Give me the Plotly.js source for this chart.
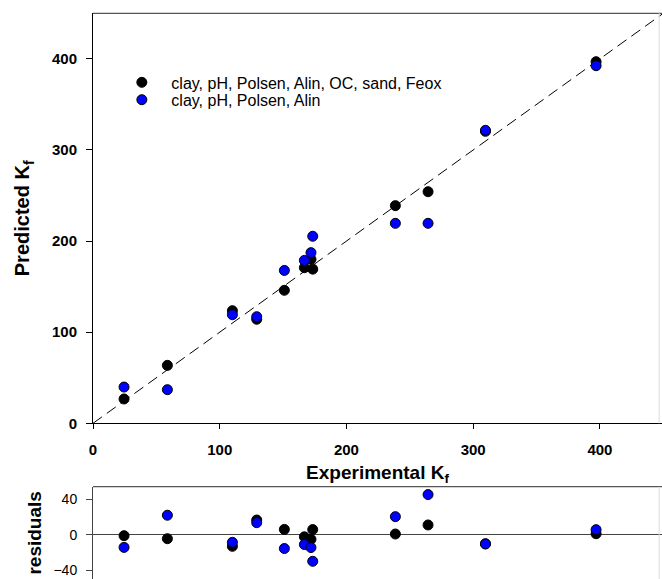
<!DOCTYPE html>
<html>
<head>
<meta charset="utf-8">
<script src="https://cdn.plot.ly/plotly-3.0.1.min.js"></script>
<style>html,body{margin:0;padding:0;background:#fff;}#chart{width:662px;height:579px;}</style>
</head>
<body>
<div id="chart"></div>
<script>
// Experimental Kf (x) for the 12 soils
var experimental = [24.5, 58.7, 110, 129.2, 151, 166.8, 172, 173.4, 238.6, 264.4, 309.7, 397];
// Predicted Kf, model with 7 variables (black)
var predicted7 = [26.7, 63.6, 123.6, 114.2, 146, 170.8, 180, 169.2, 238.9, 254.2, 320.5, 396.9];
// Predicted Kf, model with 4 variables (blue)
var predicted4 = [39.8, 36.9, 119.2, 117, 167.8, 178.8, 187.3, 205.3, 219.5, 219.5, 321.6, 392.5];
// Residuals
var residuals7 = [-1.1, -4.5, -13.1, 16.6, 6, -2.4, -5.2, 5.8, 0.8, 11, -10.2, 1.1];
var residuals4 = [-14.3, 22, -8.6, 13.6, -15.6, -11.1, -14.5, -30, 20.4, 45.3, -10.5, 5.7];
var identityLine = [0, 450];
var seriesNames = ["clay, pH, Polsen, Alin, OC, sand, Feox", "clay, pH, Polsen, Alin"];
var seriesColors = ["#000000", "#0000ff"];
var mainTicks = [0, 100, 200, 300, 400];
var residTicks = [-40, 0, 40];

var FONT = "Arial, 'Liberation Sans', sans-serif";

var traces = [
  {x: identityLine, y: identityLine, mode: "lines", type: "scatter", showlegend: false, hoverinfo: "skip",
   line: {color: "#000", width: 1, dash: "11px,6px"}, xaxis: "x", yaxis: "y"},
  {x: experimental, y: predicted7, mode: "markers", type: "scatter", name: seriesNames[0], legend: "legend",
   marker: {size: 10, color: seriesColors[0], line: {color: "#000", width: 1}}, xaxis: "x", yaxis: "y"},
  {x: experimental, y: predicted4, mode: "markers", type: "scatter", name: seriesNames[1], legend: "legend2",
   marker: {size: 10, color: seriesColors[1], line: {color: "#000", width: 1}}, xaxis: "x", yaxis: "y"},
  {x: experimental, y: residuals7, mode: "markers", type: "scatter", name: seriesNames[0], showlegend: false,
   marker: {size: 10, color: seriesColors[0], line: {color: "#000", width: 1}}, xaxis: "x2", yaxis: "y2"},
  {x: experimental, y: residuals4, mode: "markers", type: "scatter", name: seriesNames[1], showlegend: false,
   marker: {size: 10, color: seriesColors[1], line: {color: "#000", width: 1}}, xaxis: "x2", yaxis: "y2"}
];

var legendBase = {xanchor: "left", yanchor: "top", bgcolor: "rgba(0,0,0,0)",
                  font: {size: 16, family: FONT, color: "#000"}, itemwidth: 49};

var layout = {
  width: 662, height: 579,
  margin: {l: 93, r: 0, t: 0, b: 0, pad: 0},
  paper_bgcolor: "#fff", plot_bgcolor: "#fff",
  font: {family: FONT, color: "#000"},
  showlegend: true,
  legend: Object.assign({x: 0.034, y: 0.887}, legendBase),
  legend2: Object.assign({x: 0.034, y: 0.857}, legendBase),
  xaxis: {domain: [0, 1], range: [0, 449], anchor: "y", tickvals: mainTicks, ticks: "outside", ticklen: 5,
          tickcolor: "#000", showline: true, linecolor: "#000", linewidth: 1, showgrid: false, zeroline: false,
          tickfont: {size: 15, family: FONT, weight: "bold"}, ticklabelstandoff: 8,
          title: {text: "Experimental K<sub>f</sub>", font: {size: 19, family: FONT, weight: "bold"}, standoff: 8}},
  yaxis: {domain: [0.2689, 0.977], range: [0, 450], anchor: "x", tickvals: mainTicks, ticks: "outside", ticklen: 6,
          tickcolor: "#000", showline: true, linecolor: "#000", linewidth: 1, showgrid: false, zeroline: false,
          tickfont: {size: 15, family: FONT, weight: "bold"}, ticklabelstandoff: 6,
          title: {text: "Predicted K<sub>f</sub>", font: {size: 20, family: FONT, weight: "bold"}, standoff: 16}},
  xaxis2: {domain: [0, 1], range: [0, 449], anchor: "y2", showticklabels: false, ticks: "", showline: false,
           showgrid: false, zeroline: false},
  yaxis2: {domain: [0, 0.1594], range: [-50, 54.2], anchor: "x2", tickvals: residTicks, ticks: "outside", ticklen: 6,
           tickcolor: "#444", showline: true, linecolor: "#444", linewidth: 1, showgrid: false,
           zeroline: true, zerolinecolor: "#444", zerolinewidth: 1,
           tickfont: {size: 14, family: FONT}, ticklabelstandoff: 6,
           title: {text: "residuals", font: {size: 19, family: FONT, weight: "bold"}, standoff: 6}},
  shapes: [
    {type: "line", xref: "x domain", yref: "y domain", x0: 0, x1: 1, y0: 1, y1: 1, line: {color: "#555", width: 1.2}},
    {type: "line", xref: "x domain", yref: "y domain", x0: 0.995, x1: 0.995, y0: 0, y1: 1, line: {color: "#ddd", width: 1}},
    {type: "line", xref: "x2 domain", yref: "y2 domain", x0: 0, x1: 1, y0: 1, y1: 1, line: {color: "#555", width: 1.2}},
    {type: "line", xref: "x2 domain", yref: "y2 domain", x0: 0.995, x1: 0.995, y0: 0, y1: 1, line: {color: "#ddd", width: 1}}
  ]
};

Plotly.newPlot("chart", traces, layout, {staticPlot: true, displayModeBar: false});
</script>
</body>
</html>
